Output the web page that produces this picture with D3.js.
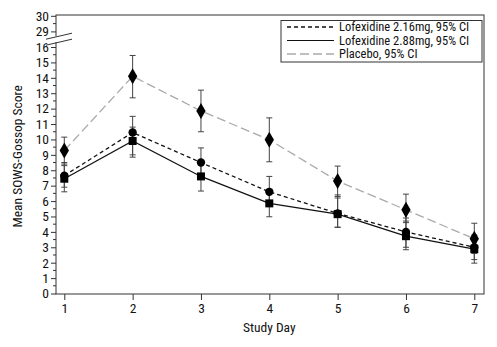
<!DOCTYPE html>
<html>
<head>
<meta charset="utf-8">
<script src="https://cdn.jsdelivr.net/npm/d3@7/dist/d3.min.js"></script>
<style>
  html, body { margin: 0; padding: 0; background: #fff; }
  svg { display: block; }
  text { font-family: "Liberation Sans Narrow", "Arial Narrow", "Roboto Condensed", sans-serif; font-stretch: condensed; fill: #111; }
</style>
</head>
<body>
<svg id="chart" width="497" height="347"></svg>
<script>
// Study days on the x axis
const days = [1, 2, 3, 4, 5, 6, 7];

// Mean SOWS-Gossop score with 95% CI, per arm
const lofex216Mean  = [7.65, 10.45, 8.5, 6.6, 5.2, 4.0, 3.0];
const lofex216Lower = [6.9, 8.85, 7.5, 5.7, 4.3, 3.0, 2.2];
const lofex216Upper = [8.5, 11.5, 9.45, 7.6, 6.2, 4.9, 3.8];

const lofex288Mean  = [7.45, 9.9, 7.6, 5.85, 5.15, 3.72, 2.88];
const lofex288Lower = [6.6, 9.0, 6.65, 4.98, 4.3, 2.84, 1.97];
const lofex288Upper = [8.3, 10.8, 8.6, 6.7, 6.4, 4.7, 3.75];

const placeboMean  = [9.28, 14.1, 11.85, 9.98, 7.3, 5.43, 3.55];
const placeboLower = [8.4, 12.7, 10.5, 8.55, 6.3, 4.6, 2.6];
const placeboUpper = [10.15, 15.45, 13.2, 11.4, 8.27, 6.45, 4.56];

// Axis labels
const yTickValues = [0,1,2,3,4,5,6,7,8,9,10,11,12,13,14,15,16,29,30];
const legendLabels = ["Lofexidine 2.16mg, 95% CI", "Lofexidine 2.88mg, 95% CI", "Placebo, 95% CI"];
const xTitle = "Study Day";
const yTitle = "Mean SOWS-Gossop Score";

const svg = d3.select("#chart");

const plot = { left: 56, right: 484, top: 15, bottom: 294 };

const x = d3.scaleLinear().domain([1, 7]).range([64.3, 474.3]);
// Broken y axis: 0–16 continuous, then a jump to 29–30
const y = d3.scaleLinear()
  .domain([0, 16, 29, 30])
  .range([293.5, 47, 31.4, 15.8]);

const series = [
  { name: legendLabels[0], mean: lofex216Mean, lo: lofex216Lower, hi: lofex216Upper,
    color: "#111", dash: "4,3", width: 1.3, marker: "circle" },
  { name: legendLabels[1], mean: lofex288Mean, lo: lofex288Lower, hi: lofex288Upper,
    color: "#111", dash: null, width: 1.2, marker: "square" },
  { name: legendLabels[2], mean: placeboMean, lo: placeboLower, hi: placeboUpper,
    color: "#aaa", dash: "9,4", width: 1.3, marker: "diamond" }
];

// Frame
svg.append("rect")
  .attr("x", plot.left).attr("y", plot.top)
  .attr("width", plot.right - plot.left).attr("height", plot.bottom - plot.top)
  .attr("fill", "none").attr("stroke", "#333").attr("stroke-width", 1);

// Y axis
const yAxis = d3.axisLeft(y).tickValues(yTickValues).tickSize(5).tickPadding(2).tickFormat(d3.format("d"));
const gy = svg.append("g").attr("transform", `translate(${plot.left},0)`).call(yAxis);
gy.select(".domain").remove();
gy.selectAll(".tick line").attr("stroke", "#333");
gy.selectAll(".tick text").attr("font-size", 13.5).style("font-family", null);

// Minor y ticks at half units
const minorY = d3.range(0.5, 16, 1).concat([29.5]);
svg.append("g").selectAll("line").data(minorY).join("line")
  .attr("x1", plot.left - 3).attr("x2", plot.left)
  .attr("y1", d => y(d)).attr("y2", d => y(d))
  .attr("stroke", "#333");

// Axis break marks
const breakY = (y(16) + y(29)) / 2;
svg.append("rect")
  .attr("x", plot.left - 2).attr("y", breakY - 3)
  .attr("width", 4).attr("height", 6).attr("fill", "#fff");
[-3, 3].forEach(off => {
  svg.append("line")
    .attr("x1", plot.left - 10).attr("y1", breakY + off + 3)
    .attr("x2", plot.left + 16).attr("y2", breakY + off - 3)
    .attr("stroke", "#333").attr("stroke-width", 1);
});

// X axis
const xAxis = d3.axisBottom(x).tickValues(days).tickSize(6).tickPadding(3).tickFormat(d3.format("d"));
const gx = svg.append("g").attr("transform", `translate(0,${plot.bottom})`).call(xAxis);
gx.select(".domain").remove();
gx.selectAll(".tick line").attr("stroke", "#333");
gx.selectAll(".tick text").attr("font-size", 13.5).style("font-family", null);

// Axis titles
svg.append("text")
  .attr("x", (x(1) + x(7)) / 2).attr("y", 332)
  .attr("text-anchor", "middle").attr("font-size", 13.5).text(xTitle);
svg.append("text")
  .attr("transform", `translate(22,${(y(0) + y(16)) / 2 - 14}) rotate(-90)`)
  .attr("text-anchor", "middle").attr("font-size", 13.5).text(yTitle);

// Lines
const line = d3.line().x((d, i) => x(days[i])).y(d => y(d));
series.slice().reverse().forEach(s => {
  svg.append("path")
    .datum(s.mean)
    .attr("d", line)
    .attr("fill", "none")
    .attr("stroke", s.color)
    .attr("stroke-width", s.width)
    .attr("stroke-dasharray", s.dash);
});

// Error bars
series.forEach(s => {
  const g = svg.append("g").attr("stroke", "#444").attr("stroke-width", 1);
  days.forEach((d, i) => {
    const cx = x(d);
    g.append("line").attr("x1", cx).attr("x2", cx).attr("y1", y(s.lo[i])).attr("y2", y(s.hi[i]));
    g.append("line").attr("x1", cx - 3).attr("x2", cx + 3).attr("y1", y(s.lo[i])).attr("y2", y(s.lo[i]));
    g.append("line").attr("x1", cx - 3).attr("x2", cx + 3).attr("y1", y(s.hi[i])).attr("y2", y(s.hi[i]));
  });
});

// Markers
const symbolFor = { circle: d3.symbolCircle, square: d3.symbolSquare, diamond: d3.symbolDiamond };
const sizeFor = { circle: 55, square: 64, diamond: 75 };
series.forEach(s => {
  svg.append("g").selectAll("path").data(s.mean).join("path")
    .attr("transform", (d, i) => `translate(${x(days[i])},${y(d)})`)
    .attr("d", d3.symbol().type(symbolFor[s.marker]).size(sizeFor[s.marker]))
    .attr("fill", "#000");
});

// Legend
const lg = svg.append("g");
lg.append("rect")
  .attr("x", 281).attr("y", 20.5).attr("width", 201).attr("height", 41.5)
  .attr("fill", "#fff").attr("stroke", "#333");
series.forEach((s, i) => {
  const ly = 27 + i * 13.5;
  lg.append("line")
    .attr("x1", 287).attr("x2", 334).attr("y1", ly).attr("y2", ly)
    .attr("stroke", s.color).attr("stroke-width", s.width)
    .attr("stroke-dasharray", s.dash);
  lg.append("text")
    .attr("x", 339).attr("y", ly).attr("dy", "0.35em")
    .attr("font-size", 12.5).text(s.name);
});
</script>
</body>
</html>
